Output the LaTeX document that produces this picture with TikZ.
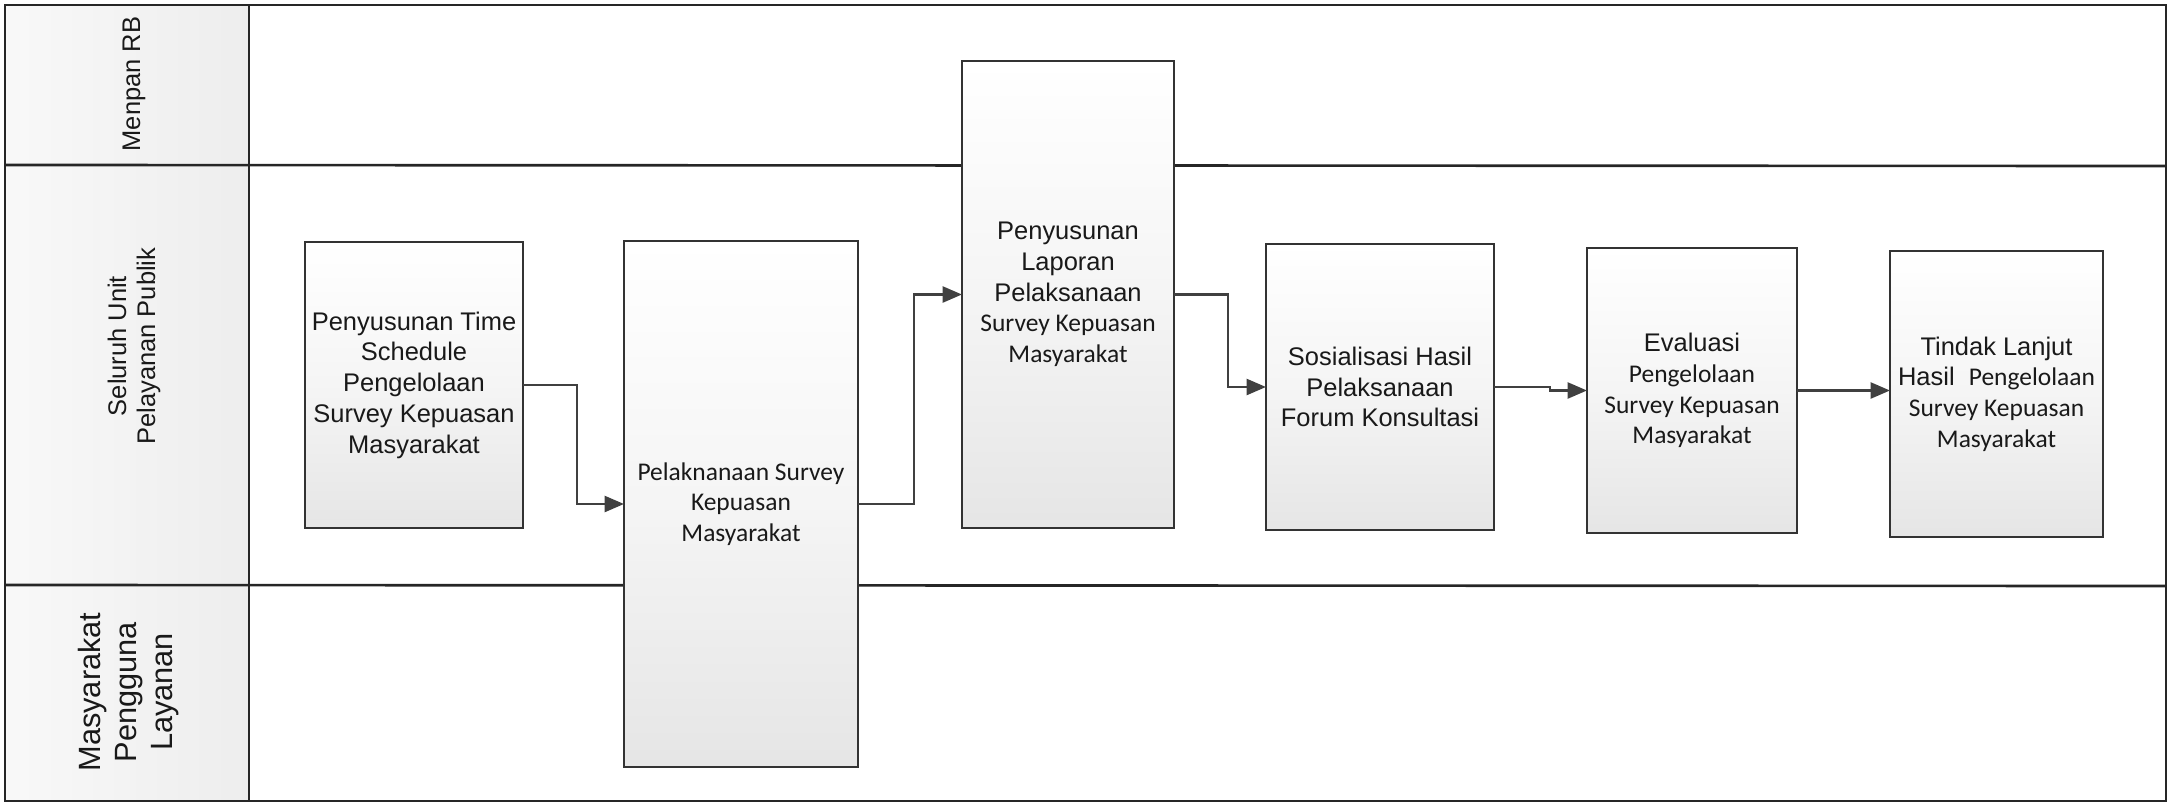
\documentclass[tikz,border=0pt]{standalone}
\usepackage{fontspec}
\setmainfont{Liberation Sans}
\newfontfamily\calib{Carlito}
\usetikzlibrary{arrows.meta}
\tikzset{
  lane/.style={draw=black!85, line width=1.5pt},
  box/.style={draw=black!80, line width=1.5pt, top color=white, bottom color=gray!20,
    middle color=white!92!gray, inner sep=0pt, outer sep=0pt, align=center,
    font=\fontsize{14.5}{17.5}\selectfont, text=black!90},
  arr/.style={draw=black!75, line width=1.6pt, -{Triangle[length=11pt,width=9pt]}},
  lbl/.style={rotate=90, align=center, text=black!90, font=\fontsize{14.5}{16.5}\selectfont},
}
\begin{document}
\begin{tikzpicture}[x=0.02cm,y=-0.02cm]
\useasboundingbox (0,0) rectangle (2171,808);
% header column
\fill[left color=gray!5, right color=gray!14] (5,5) rectangle (249,801);
% lane lines
\draw[lane] (5,5) rectangle (2166,801);
\draw[lane] (249,5) -- (249,801);
\draw[lane] (5,165) -- (2166,166);
\draw[lane] (5,585) -- (2166,586);
% lane labels
\node[lbl] (l1) at (134,84) {Menpan RB};
\node[lbl] (l2) at (134,346) {Seluruh Unit\\Pelayanan Publik};
\node[lbl, font=\fontsize{17.5}{20.5}\selectfont] (l3) at (129,692) {Masyarakat\\Pengguna\\Layanan};
% boxes
\node[box, minimum width=4.36cm, minimum height=5.72cm] (b1) at (414,385)
  {Penyusunan Time\\Schedule\\Pengelolaan\\Survey Kepuasan\\Masyarakat};
\node[box, minimum width=4.68cm, minimum height=10.52cm, font=\calib\fontsize{14.5}{17.5}\selectfont] (b2) at (741,504)
  {Pelaknanaan Survey\\Kepuasan\\Masyarakat};
\node[box, minimum width=4.24cm, minimum height=9.34cm] (b3) at (1068,294.5)
  {Penyusunan\\Laporan\\Pelaksanaan\\{\calib Survey Kepuasan}\\{\calib Masyarakat}};
\node[box, minimum width=4.56cm, minimum height=5.72cm] (b4) at (1380,387)
  {Sosialisasi Hasil\\Pelaksanaan\\Forum Konsultasi};
\node[box, minimum width=4.2cm, minimum height=5.7cm] (b5) at (1692,390.5)
  {Evaluasi\\{\calib Pengelolaan}\\{\calib Survey Kepuasan}\\{\calib Masyarakat}};
\node[box, minimum width=4.26cm, minimum height=5.72cm] (b6) at (1996.5,394)
  {Tindak Lanjut\\Hasil\ \ {\calib Pengelolaan}\\{\calib Survey Kepuasan}\\{\calib Masyarakat}};
% connectors
\draw[arr] (b1.east) -- ++(54,0) |- (b2.west);
\draw[arr] (b2.east) -- ++(56,0) |- (b3.west);
\draw[arr] (b3.east) -- ++(54,0) |- (b4.west);
\draw[arr] (b4.east) -- ++(56,0) |- (b5.west);
\draw[arr] (b5.east) -- (b5.east -| b6.west);
\end{tikzpicture}
\end{document}
